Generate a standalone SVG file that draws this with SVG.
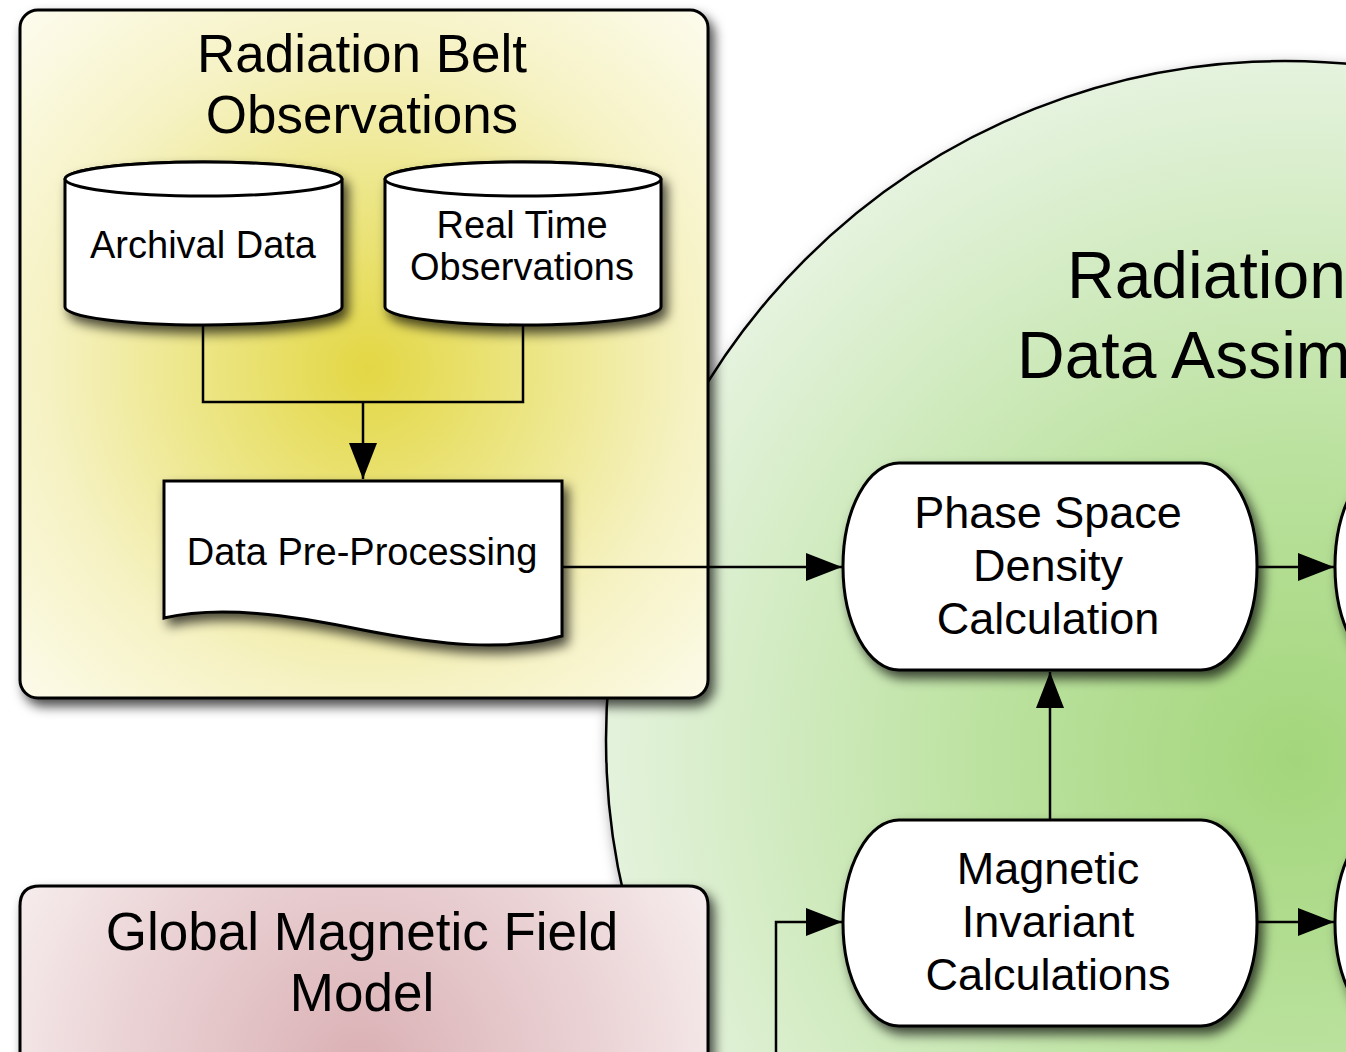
<svg xmlns="http://www.w3.org/2000/svg" width="1346" height="1052" viewBox="0 0 1346 1052">
<defs>
<radialGradient id="gYellow" gradientUnits="userSpaceOnUse" cx="368" cy="368" r="500">
<stop offset="0" stop-color="#e3d744"/>
<stop offset="0.3" stop-color="#ebe47e"/>
<stop offset="0.65" stop-color="#f6f2c4"/>
<stop offset="1" stop-color="#fdfcef"/>
</radialGradient>
<radialGradient id="gGreen" gradientUnits="userSpaceOnUse" cx="1295" cy="760" r="700">
<stop offset="0" stop-color="#a3d67b"/>
<stop offset="0.45" stop-color="#bce2a0"/>
<stop offset="1" stop-color="#e5f3de"/>
</radialGradient>
<radialGradient id="gPink" gradientUnits="userSpaceOnUse" cx="360" cy="1070" r="430">
<stop offset="0" stop-color="#dab0b4"/>
<stop offset="0.6" stop-color="#ecd6d8"/>
<stop offset="1" stop-color="#faf4f4"/>
</radialGradient>
<filter id="sh" x="-20%" y="-20%" width="150%" height="150%">
<feDropShadow dx="5" dy="7" stdDeviation="6" flood-color="#000" flood-opacity="0.7"/>
</filter>
<filter id="shBig" x="-10%" y="-10%" width="130%" height="130%">
<feDropShadow dx="4" dy="6" stdDeviation="7" flood-color="#000" flood-opacity="0.5"/>
</filter>
<marker id="arr" markerUnits="userSpaceOnUse" markerWidth="36" markerHeight="28" refX="36" refY="14" orient="auto">
<path d="M0,0 L36,14 L0,28 Z" fill="#000"/>
</marker>
<style>
.t{font-family:"Liberation Sans",Arial,Helvetica,sans-serif;fill:#000;text-anchor:middle}
.big{font-size:53px}
.mid{font-size:45px}
.sm{font-size:38px}
.huge{font-size:66px;text-anchor:start}
.node{fill:#fff;stroke:#000;stroke-width:3;filter:url(#sh)}
.conn{fill:none;stroke:#000;stroke-width:2.5}
</style>
</defs>

<g id="assimilation">
<circle cx="1285" cy="740" r="679" fill="url(#gGreen)" stroke="#000" stroke-width="2.5" filter="url(#shBig)"/>
<text class="t huge" x="1067" y="298">Radiation</text>
<text class="t huge" x="1017" y="378">Data Assim</text>
</g>

<g id="observations">
<rect x="20" y="10" width="688" height="688" rx="18" ry="18" fill="url(#gYellow)" stroke="#000" stroke-width="3" filter="url(#sh)"/>
<text class="t big" x="362" y="72">Radiation Belt</text>
<text class="t big" x="362" y="133">Observations</text>
</g>

<g id="magfield">
<path d="M20,1070 V906 Q20,886 40,886 H688 Q708,886 708,906 V1070" fill="url(#gPink)" stroke="#000" stroke-width="3" filter="url(#sh)"/>
<text class="t big" x="362" y="950">Global Magnetic Field</text>
<text class="t big" x="362" y="1011">Model</text>
</g>

<g id="connectors">
<path class="conn" d="M203,326 V402 H363"/>
<path class="conn" d="M523,326 V402 H363"/>
<path class="conn" d="M363,402 V479" marker-end="url(#arr)"/>
<path class="conn" d="M563,567 H842" marker-end="url(#arr)"/>
<path class="conn" d="M1050,820 V672" marker-end="url(#arr)"/>
<path class="conn" d="M1257,567 H1334" marker-end="url(#arr)"/>
<path class="conn" d="M1257,922 H1334" marker-end="url(#arr)"/>
<path class="conn" d="M776,1060 V922 H842" marker-end="url(#arr)"/>
</g>

<g id="archival">
<path class="node" d="M65,179 V307 A138.5,18 0 0 0 342,307 V179 A138.5,17 0 0 0 65,179 Z"/>
<ellipse cx="203.5" cy="179" rx="138.5" ry="17" fill="#fff" stroke="#000" stroke-width="3"/>
<text class="t sm" x="203" y="258">Archival Data</text>
</g>

<g id="realtime">
<path class="node" d="M385,179 V307 A138,18 0 0 0 661,307 V179 A138,17 0 0 0 385,179 Z"/>
<ellipse cx="523" cy="179" rx="138" ry="17" fill="#fff" stroke="#000" stroke-width="3"/>
<text class="t sm" x="522" y="238">Real Time</text>
<text class="t sm" x="522" y="280">Observations</text>
</g>

<g id="preprocessing">
<path class="node" d="M164,481 H562 V636 C505,652 440,645 363,630 C290,615 220,605 164,618 Z"/>
<text class="t sm" x="362" y="565">Data Pre-Processing</text>
</g>

<g id="psd">
<path class="node" d="M899,463 H1201 A56,103.5 0 0 1 1201,670 H899 A56,103.5 0 0 1 899,463 Z"/>
<text class="t mid" x="1048" y="528">Phase Space</text>
<text class="t mid" x="1048" y="581">Density</text>
<text class="t mid" x="1048" y="634">Calculation</text>
</g>

<g id="invariants">
<path class="node" d="M899,820 H1201 A56,103 0 0 1 1201,1026 H899 A56,103 0 0 1 899,820 Z"/>
<text class="t mid" x="1048" y="884">Magnetic</text>
<text class="t mid" x="1048" y="937">Invariant</text>
<text class="t mid" x="1048" y="990">Calculations</text>
</g>

<g id="next-top">
<path class="node" d="M1391,463 H1500 V670 H1391 A56,103.5 0 0 1 1391,463 Z"/>
</g>

<g id="next-bottom">
<path class="node" d="M1391,820 H1500 V1026 H1391 A56,103 0 0 1 1391,820 Z"/>
</g>
</svg>
